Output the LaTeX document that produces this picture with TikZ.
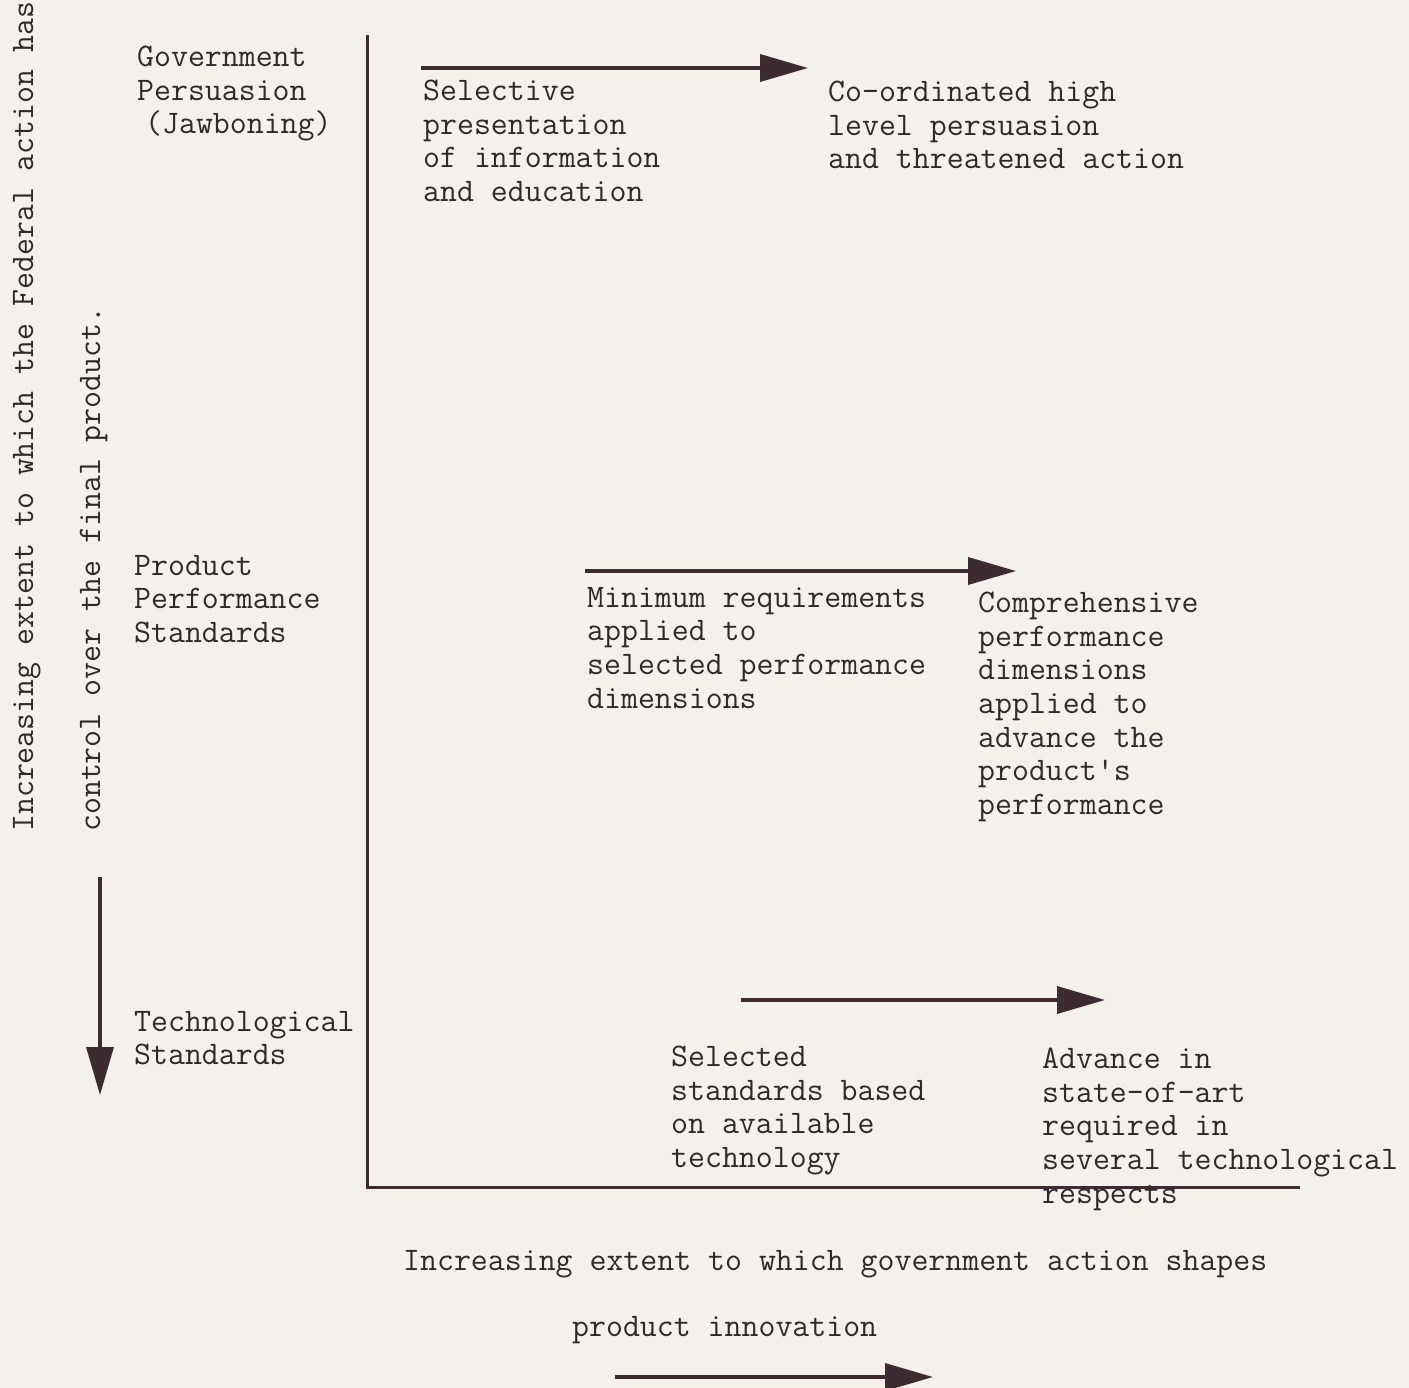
\documentclass[tikz,border=0pt]{standalone}
\usepackage{fontspec}
\usetikzlibrary{arrows.meta}
\definecolor{paper}{HTML}{F4F0EB}
\definecolor{ink}{HTML}{2E2A2C}
\definecolor{lineink}{HTML}{3E2B32}
\begin{document}
\begin{tikzpicture}[x=1pt,y=-1pt,
  txt/.style={font=\ttfamily\fontsize{32.9}{33.6}\selectfont, align=left, inner sep=0pt, anchor=north west, text=ink},
  rtxt/.style={font=\ttfamily\fontsize{32.9}{33.6}\selectfont, inner sep=0pt, anchor=base west, rotate=90, text=ink},
  axis/.style={draw=lineink, line width=3pt},
  arr/.style={draw=lineink, line width=3.5pt, -{Triangle[length=48pt,width=27pt]}}]
\fill[paper] (0,0) rectangle (1409,1388);
\useasboundingbox (0,0) rectangle (1409,1388);

% axes
\coordinate (ytop) at (367,35);
\coordinate (O) at (367,1187);
\coordinate (xend) at (1300,1187);
\draw[axis] (ytop) -- (O) -- (xend);

% left rotated labels
\node[rtxt] (ylab1) at (33,832) {Increasing extent to which the Federal action has};
\node[rtxt] (ylab2) at (100,832) {control over the final product.};
\coordinate (ds) at (100,877);
\coordinate (de) at (100,1095);
\draw[arr] (ds) -- (de);

% row labels
\node[txt] (gov) at (137,46) {Government\\Persuasion\\\hspace*{8pt}(Jawboning)};
\node[txt] (pps) at (134,555) {Product\\Performance\\Standards};
\node[txt] (tec) at (134,1011) {Technological\\Standards};

% row 1
\coordinate (a1s) at (421,68);
\coordinate (a1e) at (808,68);
\draw[arr] (a1s) -- (a1e);
\node[txt] (sel) at (423,80) {Selective\\presentation\\of information\\and education};
\node[txt] (coo) at (828,81) {Co-ordinated high\\level persuasion\\and threatened action};

% row 2
\coordinate (a2s) at (585,571);
\coordinate (a2e) at (1016,571);
\draw[arr] (a2s) -- (a2e);
\node[txt] (min) at (587,587) {Minimum requirements\\applied to\\selected performance\\dimensions};
\node[txt] (com) at (978,592) {Comprehensive\\performance\\dimensions\\applied to\\advance the\\product's\\performance};

% row 3
\coordinate (a3s) at (741,1000);
\coordinate (a3e) at (1105,1000);
\draw[arr] (a3s) -- (a3e);
\node[txt] (sst) at (671,1046) {Selected\\standards based\\on available\\technology};
\node[txt] (adv) at (1042,1048) {Advance in\\state-of-art\\required in\\several technological\\respects};

% x axis caption
\node[txt] (xlab1) at (403,1250) {Increasing extent to which government action shapes};
\node[txt] (xlab2) at (572,1316) {product innovation};
\coordinate (bs) at (615,1377);
\coordinate (be) at (933,1377);
\draw[arr] (bs) -- (be);
\end{tikzpicture}
\end{document}
